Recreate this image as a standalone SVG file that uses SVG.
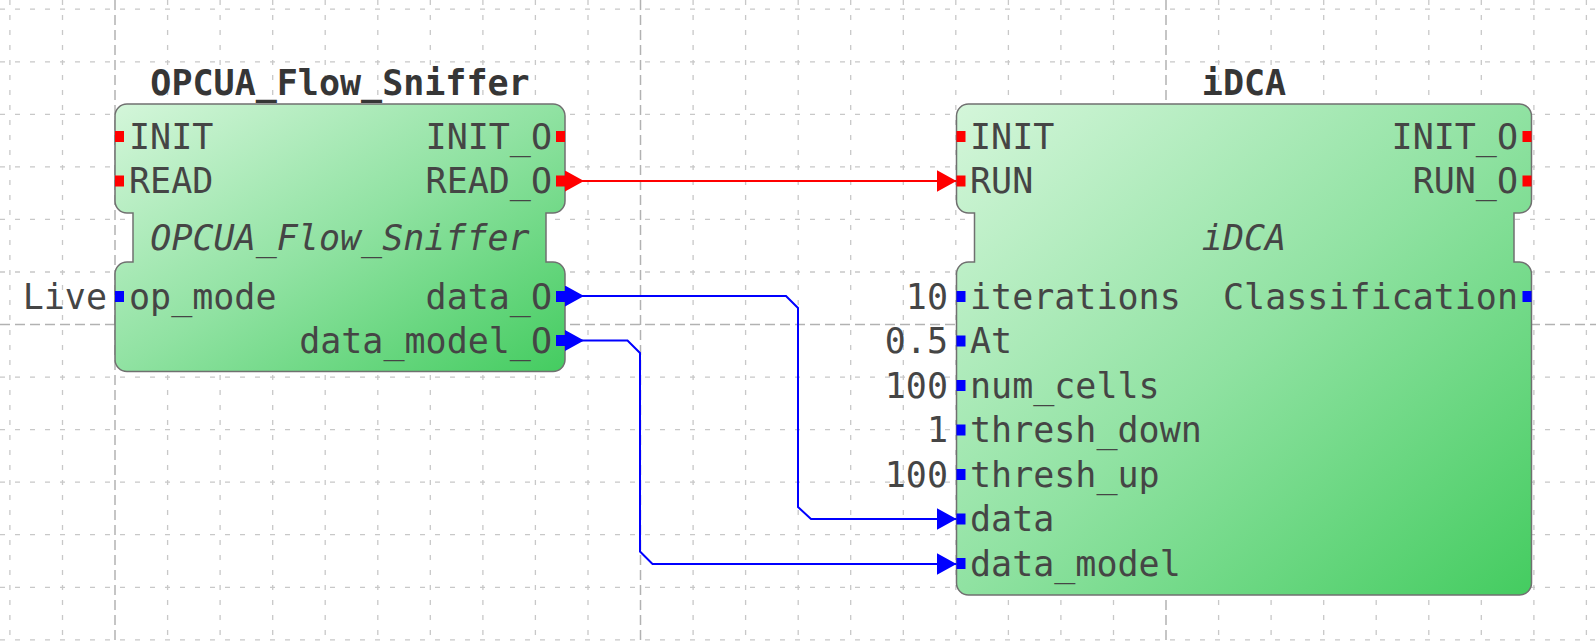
<svg xmlns="http://www.w3.org/2000/svg" width="1596" height="643" viewBox="0 0 1596 643">
<style>
.bg{fill:#ffffff}
.gmin{stroke:#c8c8c8;stroke-width:1.3;stroke-dasharray:5 10;fill:none}
.gmaj{stroke:#b2b2b2;stroke-width:1.5;stroke-dasharray:10 5;fill:none}
.blk{fill:url(#fbg);stroke:#707070;stroke-width:1.5}
text{font-family:"DejaVu Sans Mono","Liberation Mono",monospace;font-size:35px;fill:#454545}
.ttl{font-weight:bold;text-anchor:middle;fill:#363636}
.typ{font-style:italic;text-anchor:middle}
.end{text-anchor:end}
.ev{fill:#ff0000}
.dt{fill:#0000ff}
.cev{stroke:#ff0000;stroke-width:2;fill:none}
.cdt{stroke:#0000ff;stroke-width:2;fill:none}
</style>
<defs>
<linearGradient id="fbg" x1="0" y1="0" x2="1" y2="1">
<stop offset="0" stop-color="#d4f6da"/>
<stop offset="0.5" stop-color="#90e2a2"/>
<stop offset="1" stop-color="#44cc60"/>
</linearGradient>
<marker id="arR" viewBox="0 0 20 22" refX="20" refY="11" markerWidth="20" markerHeight="22" markerUnits="userSpaceOnUse" orient="auto"><path d="M0,0 L20,11 L0,22 Z" fill="#ff0000"/></marker>
<marker id="asR" viewBox="0 0 19 21" refX="0" refY="10.5" markerWidth="19" markerHeight="21" markerUnits="userSpaceOnUse" orient="auto"><path d="M0,0 L19,10.5 L0,21 Z" fill="#ff0000"/></marker>
<marker id="arB" viewBox="0 0 20 22" refX="20" refY="11" markerWidth="20" markerHeight="22" markerUnits="userSpaceOnUse" orient="auto"><path d="M0,0 L20,11 L0,22 Z" fill="#0000ff"/></marker>
<marker id="asB" viewBox="0 0 19 21" refX="0" refY="10.5" markerWidth="19" markerHeight="21" markerUnits="userSpaceOnUse" orient="auto"><path d="M0,0 L19,10.5 L0,21 Z" fill="#0000ff"/></marker>
</defs>
<rect class="bg" x="0" y="0" width="1596" height="643"/>
<g id="grid">
<path class="gmin" d="M9.9,0V643 M62.5,0V643 M167.6,0V643 M220.1,0V643 M272.7,0V643 M325.2,0V643 M377.8,0V643 M430.3,0V643 M482.9,0V643 M535.4,0V643 M588,0V643 M693.1,0V643 M745.6,0V643 M798.2,0V643 M850.7,0V643 M903.3,0V643 M955.8,0V643 M1008.4,0V643 M1060.9,0V643 M1113.5,0V643 M1218.6,0V643 M1271.1,0V643 M1323.7,0V643 M1376.2,0V643 M1428.8,0V643 M1481.3,0V643 M1533.9,0V643 M1586.4,0V643"/>
<path class="gmin" d="M0,9.2H1596 M0,61.8H1596 M0,114.3H1596 M0,166.9H1596 M0,219.4H1596 M0,272H1596 M0,377.1H1596 M0,429.6H1596 M0,482.2H1596 M0,534.7H1596 M0,587.3H1596 M0,639.8H1596"/>
<path class="gmaj" d="M115,0V643 M640.5,0V643 M1166,0V643 M0,324.5H1596"/>
</g>
<g id="OPCUA_Flow_Sniffer">
<text class="ttl" x="340" y="94.5">OPCUA_Flow_Sniffer</text>
<path class="blk" d="M127,104 H553 A12,12 0 0 1 565,116 V201 A12,12 0 0 1 553,213 H546 V262 H553 A12,12 0 0 1 565,274 V359.5 A12,12 0 0 1 553,371.5 H127 A12,12 0 0 1 115,359.5 V274 A12,12 0 0 1 127,262 H133 V213 H127 A12,12 0 0 1 115,201 V116 A12,12 0 0 1 127,104 Z"/>
<rect class="ev" x="115" y="131" width="9" height="11"/>
<rect class="ev" x="115" y="175.5" width="9" height="11"/>
<rect class="ev" x="556" y="131" width="9" height="11"/>
<rect class="ev" x="556" y="175.5" width="9" height="11"/>
<rect class="dt" x="115" y="291" width="9" height="11"/>
<rect class="dt" x="556" y="291" width="9" height="11"/>
<rect class="dt" x="556" y="335" width="9" height="11"/>
<text x="129" y="148.5">INIT</text>
<text x="129" y="193">READ</text>
<text class="end" x="552" y="148.5">INIT_O</text>
<text class="end" x="552" y="193">READ_O</text>
<text class="typ" x="340" y="250">OPCUA_Flow_Sniffer</text>
<text x="129" y="308.5">op_mode</text>
<text class="end" x="107" y="308.5">Live</text>
<text class="end" x="552" y="308.5">data_O</text>
<text class="end" x="552" y="352.5">data_model_O</text>
</g>
<g id="iDCA">
<text class="ttl" x="1244" y="94.5">iDCA</text>
<path class="blk" d="M968.5,104 H1519.5 A12,12 0 0 1 1531.5,116 V201 A12,12 0 0 1 1519.5,213 H1514 V262 H1519.5 A12,12 0 0 1 1531.5,274 V583 A12,12 0 0 1 1519.5,595 H968.5 A12,12 0 0 1 956.5,583 V274 A12,12 0 0 1 968.5,262 H974.5 V213 H968.5 A12,12 0 0 1 956.5,201 V116 A12,12 0 0 1 968.5,104 Z"/>
<rect class="ev" x="956.5" y="131" width="9" height="11"/>
<rect class="ev" x="956.5" y="175.5" width="9" height="11"/>
<rect class="ev" x="1522.5" y="131" width="9" height="11"/>
<rect class="ev" x="1522.5" y="175.5" width="9" height="11"/>
<rect class="dt" x="956.5" y="291" width="9" height="11"/>
<rect class="dt" x="956.5" y="335.5" width="9" height="11"/>
<rect class="dt" x="956.5" y="380" width="9" height="11"/>
<rect class="dt" x="956.5" y="424.5" width="9" height="11"/>
<rect class="dt" x="956.5" y="469" width="9" height="11"/>
<rect class="dt" x="956.5" y="513.5" width="9" height="11"/>
<rect class="dt" x="956.5" y="558" width="9" height="11"/>
<rect class="dt" x="1522.5" y="291" width="9" height="11"/>
<text x="970" y="148.5">INIT</text>
<text x="970" y="193">RUN</text>
<text class="end" x="1518" y="148.5">INIT_O</text>
<text class="end" x="1518" y="193">RUN_O</text>
<text class="typ" x="1244" y="250">iDCA</text>
<text x="970" y="308.5">iterations</text>
<text x="970" y="353">At</text>
<text x="970" y="397.5">num_cells</text>
<text x="970" y="442">thresh_down</text>
<text x="970" y="486.5">thresh_up</text>
<text x="970" y="531">data</text>
<text x="970" y="575.5">data_model</text>
<text class="end" x="948" y="308.5">10</text>
<text class="end" x="948" y="353">0.5</text>
<text class="end" x="948" y="397.5">100</text>
<text class="end" x="948" y="442">1</text>
<text class="end" x="948" y="486.5">100</text>
<text class="end" x="1518" y="308.5">Classification</text>
</g>
<g id="connectors">
<path class="cev" d="M565,181 H956.5" marker-start="url(#asR)" marker-end="url(#arR)"/>
<path class="cdt" d="M565,296 H786 L798,308 V507 L811,519 H956.5" marker-start="url(#asB)" marker-end="url(#arB)"/>
<path class="cdt" d="M565,340.5 H627.5 L640,353 V551.5 L652.5,564 H956.5" marker-start="url(#asB)" marker-end="url(#arB)"/>
</g>
</svg>
